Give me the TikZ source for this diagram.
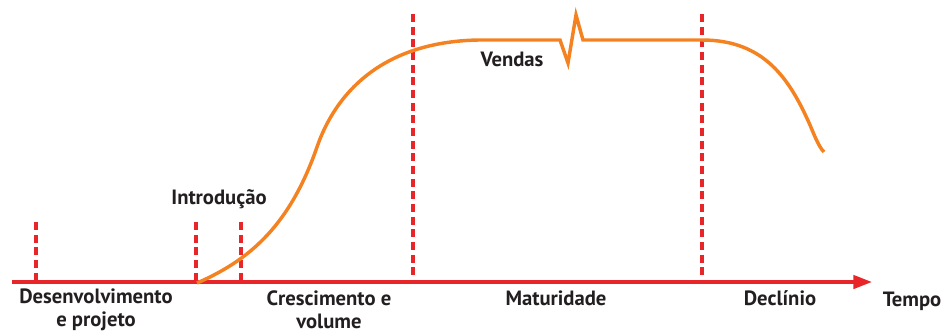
\documentclass[tikz,border=0pt]{standalone}
\usepackage{fontspec}
\setmainfont{PT Sans}
\usetikzlibrary{arrows.meta}
\definecolor{axisred}{HTML}{E8262A}
\definecolor{salesorange}{HTML}{F58220}
\definecolor{txt}{HTML}{231F20}
\tikzset{
  axisline/.style={draw=axisred, line width=2.6pt, -{Triangle[length=14pt,width=10pt]}},
  phaseline/.style={draw=axisred, line width=2.8pt, dash pattern=on 6pt off 3.5pt},
  salescurve/.style={draw=salesorange, line width=2.6pt, line join=miter},
  lbl/.style={text=txt, font=\bfseries\fontsize{15.5}{17.5}\selectfont, align=center, inner sep=0pt},
}
\begin{document}
\begin{tikzpicture}[x=0.75pt,y=-0.75pt]
\useasboundingbox (0,0) rectangle (952,333);
% axis
\coordinate (a0) at (12,282);
\coordinate (a1) at (872,282);
\draw[axisline] (a0) -- (a1);
% phase lines
\coordinate (d1t) at (36,222);  \coordinate (d1b) at (36,282);
\coordinate (d2t) at (196,222); \coordinate (d2b) at (196,282);
\coordinate (d3t) at (241,222); \coordinate (d3b) at (241,282);
\coordinate (d4t) at (413,14);  \coordinate (d4b) at (413,282);
\coordinate (d5t) at (702,14);  \coordinate (d5b) at (702,282);
\draw[phaseline] (d1t) -- (d1b);
\draw[phaseline] (d2t) -- (d2b);
\draw[phaseline] (d3t) -- (d3b);
\draw[phaseline] (d4t) -- (d4b);
\draw[phaseline] (d5t) -- (d5b);
% sales curve
\coordinate (s0) at (197,283);
\coordinate (s1) at (317,147);
\coordinate (s2) at (478,40);
\coordinate (z0) at (560,40);
\coordinate (z1) at (568,63);
\coordinate (z2) at (576,15);
\coordinate (z3) at (583,40);
\coordinate (s3) at (702,40);
\coordinate (s4) at (810,125);
\coordinate (s5) at (824,152);
\draw[salescurve] (s0) .. controls (250,260) and (290,225) .. (s1)
  .. controls (335,95) and (380,42) .. (s2) -- (z0) -- (z1) -- (z2) -- (z3) -- (s3)
  .. controls (765,40) and (790,80) .. (s4) .. controls (815,137) and (819,147) .. (s5);
% labels
\node[lbl] (l1) at (96,310) {Desenvolvimento\\e projeto};
\node[lbl] (l2) at (219,199) {Introdução};
\node[lbl] (l3) at (329,310) {Crescimento e\\volume};
\node[lbl] (l4) at (556,298) {Maturidade};
\node[lbl] (l5) at (780,298) {Declínio};
\node[lbl] (l6) at (912,301) {Tempo};
\node[lbl] (l7) at (512,59) {Vendas};
\end{tikzpicture}
\end{document}
